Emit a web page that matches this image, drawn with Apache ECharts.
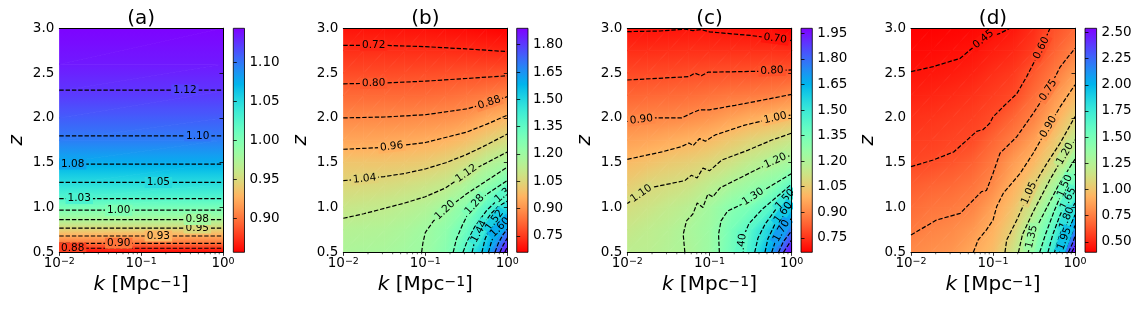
<!DOCTYPE html>
<html><head><meta charset="utf-8">
<script src="https://cdn.jsdelivr.net/npm/echarts@6/dist/echarts.min.js"></script>
<style>html,body{margin:0;padding:0;background:#fff}#c{width:1144px;height:312px}</style>
</head><body><div id="c"></div><script>
// ---------------- data (x = log10 k, y = z) ----------------
const logK = [-2, -1.75, -1.5, -1.25, -1, -0.75, -0.5, -0.25, 0];
const zRows = [0.5, 0.75, 1.0, 1.25, 1.5, 1.75, 2.0, 2.25, 2.5, 2.75, 3.0];
const xTickVals = [-2, -1, 0];
const yTickVals = [0.5, 1.0, 1.5, 2.0, 2.5, 3.0];
const minorK = [0.02,0.03,0.04,0.05,0.06,0.07,0.08,0.09,0.2,0.3,0.4,0.5,0.6,0.7,0.8,0.9];

// panel (a): depends on z only
const aZ   = [0.5, 0.55, 0.6, 0.7, 0.8, 0.9, 1.0, 1.1, 1.25, 1.5, 1.75, 2.0, 2.3, 2.6, 3.0];
const aVal = [0.860, 0.877, 0.900, 0.930, 0.958, 0.985, 1.005, 1.025, 1.046, 1.076, 1.097, 1.110, 1.125, 1.135, 1.143];
const aLevels = [['0.88',0.545],['0.90',0.60],['0.93',0.682],['0.95',0.770],['0.98',0.865],['1.00',0.97],['1.03',1.10],['1.05',1.28],['1.08',1.485],['1.10',1.80],['1.12',2.31]];
const aLabelX = {'0.88':-1.837,'0.90':-1.274,'0.93':-0.79,'0.95':-0.314,'0.98':-0.314,'1.00':-1.274,'1.03':-1.756,'1.05':-0.79,'1.08':-1.837,'1.10':-0.309,'1.12':-0.464};

// panels (b)-(d): rows = zRows, columns = logK
const bGrid = [
 [1.165,1.17,1.175,1.19,1.205,1.255,1.39,1.585,1.89],
 [1.145,1.15,1.155,1.17,1.195,1.235,1.32,1.48,1.69],
 [1.10,1.108,1.117,1.132,1.15,1.19,1.25,1.37,1.49],
 [1.05,1.056,1.063,1.075,1.09,1.112,1.165,1.23,1.31],
 [1.005,1.005,1.005,1.01,1.02,1.04,1.075,1.135,1.18],
 [0.937,0.938,0.94,0.945,0.953,0.965,0.99,1.03,1.067],
 [0.88,0.881,0.882,0.884,0.889,0.895,0.91,0.945,0.972],
 [0.828,0.828,0.828,0.828,0.829,0.835,0.845,0.857,0.876],
 [0.777,0.777,0.777,0.778,0.78,0.783,0.787,0.785,0.79],
 [0.731,0.731,0.731,0.73,0.729,0.728,0.725,0.72,0.717],
 [0.69,0.689,0.688,0.687,0.685,0.68,0.675,0.668,0.66]];
const cGrid = [
 [1.165,1.17,1.19,1.205,1.25,1.355,1.47,1.69,1.98],
 [1.14,1.16,1.18,1.21,1.245,1.34,1.43,1.59,1.79],
 [1.105,1.125,1.15,1.175,1.23,1.295,1.345,1.43,1.625],
 [1.055,1.085,1.102,1.12,1.16,1.205,1.25,1.29,1.41],
 [1.008,1.025,1.045,1.06,1.085,1.117,1.16,1.195,1.23],
 [0.95,0.96,0.975,0.99,1.008,1.04,1.072,1.098,1.135],
 [0.89,0.897,0.90,0.91,0.925,0.95,0.975,0.995,1.015],
 [0.835,0.84,0.845,0.85,0.86,0.87,0.876,0.885,0.905],
 [0.787,0.788,0.79,0.795,0.80,0.802,0.805,0.81,0.815],
 [0.74,0.74,0.742,0.745,0.745,0.745,0.745,0.745,0.74],
 [0.693,0.693,0.695,0.698,0.698,0.693,0.69,0.685,0.665]];
const dGrid = [
 [0.79,0.81,0.83,0.895,0.97,1.15,1.43,1.80,2.54],
 [0.74,0.77,0.79,0.835,0.925,1.06,1.345,1.65,2.14],
 [0.70,0.725,0.74,0.77,0.87,0.99,1.185,1.48,1.87],
 [0.655,0.675,0.69,0.72,0.79,0.92,1.06,1.29,1.59],
 [0.594,0.605,0.63,0.665,0.735,0.85,0.95,1.10,1.38],
 [0.565,0.57,0.585,0.60,0.68,0.752,0.86,1.00,1.205],
 [0.533,0.54,0.555,0.57,0.605,0.68,0.765,0.905,1.06],
 [0.49,0.50,0.515,0.535,0.565,0.598,0.70,0.82,0.95],
 [0.453,0.46,0.472,0.49,0.525,0.555,0.645,0.735,0.855],
 [0.425,0.43,0.44,0.45,0.48,0.505,0.56,0.67,0.76],
 [0.40,0.405,0.41,0.418,0.44,0.46,0.52,0.62,0.69]];

// colorbar ranges and ticks
const aRange = [0.857, 1.144], bRange = [0.66, 1.89], cRange = [0.665, 1.98], dRange = [0.40, 2.54];
const aTicks = [0.90, 0.95, 1.00, 1.05, 1.10];
const bTicks = [0.75, 0.90, 1.05, 1.20, 1.35, 1.50, 1.65, 1.80];
const cTicks = [0.75, 0.90, 1.05, 1.20, 1.35, 1.50, 1.65, 1.80, 1.95];
const dTicks = [0.50, 0.75, 1.00, 1.25, 1.50, 1.75, 2.00, 2.25, 2.50];

// contour lines [label, [[log10 k, z], ...]]
const bContours = [
 ['0.72', [[-2,2.81],[-1.5,2.81],[-1,2.795],[-0.5,2.77],[0,2.74]]],
 ['0.80', [[-2,2.38],[-1.5,2.39],[-1,2.41],[-0.5,2.44],[0,2.47]]],
 ['0.88', [[-2,2.0],[-1.5,2.01],[-1,2.035],[-0.5,2.1],[-0.25,2.16],[0,2.237]]],
 ['0.96', [[-2,1.65],[-1.5,1.67],[-1,1.725],[-0.5,1.84],[-0.25,1.93],[0,2.03]]],
 ['1.04', [[-2,1.3],[-1.75,1.32],[-1.5,1.345],[-1.25,1.38],[-1,1.43],[-0.75,1.5],[-0.5,1.59],[-0.25,1.7],[0,1.82]]],
 ['1.12', [[-2,0.88],[-1.75,0.93],[-1.5,0.99],[-1.25,1.05],[-1,1.12],[-0.75,1.22],[-0.5,1.38],[-0.25,1.5],[0,1.62]]],
 ['1.20', [[-1.045,0.5],[-1.03,0.6],[-1.0,0.72],[-0.9,0.85],[-0.76,0.97],[-0.6,1.08],[-0.5,1.15],[-0.25,1.3],[0,1.45]]],
 ['1.28', [[-0.66,0.5],[-0.62,0.65],[-0.55,0.8],[-0.45,0.98],[-0.35,1.08],[-0.2,1.18],[0,1.3]]],
 ['1.36', [[-0.54,0.5],[-0.5,0.6],[-0.4,0.78],[-0.25,0.97],[-0.1,1.1],[0,1.18]]],
 ['1.44', [[-0.43,0.5],[-0.39,0.65],[-0.3,0.8],[-0.2,0.93],[-0.1,1.02],[0,1.07]]],
 ['1.52', [[-0.31,0.5],[-0.27,0.65],[-0.2,0.8],[-0.12,0.9],[0,0.96]]],
 ['1.60', [[-0.23,0.5],[-0.19,0.63],[-0.12,0.75],[0,0.86]]],
 ['1.68', [[-0.15,0.5],[-0.11,0.6],[-0.05,0.7],[0,0.76]]],
 ['1.76', [[-0.09,0.5],[-0.05,0.58],[0,0.66]]],
 ['1.84', [[-0.03,0.5],[0,0.56]]]];
const bLabels = [['0.72',-1.63,2.81],['0.80',-1.63,2.385],['0.88',-0.22,2.17],['0.96',-1.41,1.68],['1.04',-1.74,1.32],['1.12',-0.5,1.38],['1.20',-0.76,0.97],['1.28',-0.42,1.05],['1.36',-0.03,1.16],['1.44',-0.36,0.74],['1.52',-0.16,0.86],['1.60',-0.1,0.79]];

const cContours = [
 ['0.70', [[-2,2.963],[-1.6,2.97],[-1.3,2.99],[-1.2,2.975],[-1.1,2.985],[-1.0,2.96],[-0.5,2.92],[0,2.862]]],
 ['0.80', [[-2,2.423],[-1.42,2.452],[-1.25,2.46],[-1.18,2.5],[-1.1,2.47],[-1.02,2.51],[-0.41,2.52],[0,2.535]]],
 ['0.90', [[-2,1.96],[-1.67,2.0],[-1.34,2.0],[-1.2,2.06],[-1.12,2.09],[-1.0,2.09],[-0.69,2.14],[-0.29,2.21],[0,2.263]]],
 ['1.00', [[-2,1.538],[-1.58,1.62],[-1.34,1.68],[-1.25,1.72],[-1.2,1.69],[-1.12,1.77],[-1.05,1.74],[-0.93,1.81],[-0.57,1.92],[-0.2,2.0],[0,2.033]]],
 ['1.10', [[-2,1.044],[-1.83,1.155],[-1.67,1.23],[-1.3,1.3],[-1.22,1.36],[-1.15,1.33],[-1.08,1.44],[-1.0,1.41],[-0.85,1.53],[-0.53,1.64],[-0.25,1.75],[0,1.83]]],
 ['1.20', [[-1.3,0.5],[-1.32,0.7],[-1.28,0.85],[-1.2,0.93],[-1.15,1.05],[-1.08,1.0],[-1.02,1.15],[-0.96,1.12],[-0.87,1.22],[-0.63,1.33],[-0.39,1.44],[-0.2,1.52],[0,1.586]]],
 ['1.30', [[-0.88,0.5],[-0.89,0.7],[-0.86,0.85],[-0.78,0.96],[-0.62,1.03],[-0.47,1.12],[-0.2,1.27],[0,1.38]]],
 ['1.40', [[-0.62,0.5],[-0.6,0.65],[-0.52,0.82],[-0.36,0.98],[-0.18,1.12],[0,1.26]]],
 ['1.50', [[-0.45,0.5],[-0.41,0.66],[-0.32,0.82],[-0.2,0.97],[-0.08,1.09],[0,1.16]]],
 ['1.60', [[-0.325,0.5],[-0.29,0.65],[-0.2,0.82],[-0.08,0.97],[0,1.04]]],
 ['1.70', [[-0.243,0.5],[-0.2,0.62],[-0.1,0.78],[0,0.88]]],
 ['1.80', [[-0.16,0.5],[-0.1,0.62],[0,0.74]]],
 ['1.90', [[-0.1,0.5],[-0.05,0.57],[0,0.64]]]];
const cLabels = [['0.70',-0.2,2.89],['0.80',-0.24,2.53],['0.90',-1.83,1.99],['1.00',-0.2,2.0],['1.10',-1.83,1.155],['1.20',-0.2,1.52],['1.30',-0.47,1.12],['1.40',-0.61,0.58],['1.50',-0.08,1.09],['1.60',-0.1,0.94],['1.70',-0.13,0.74]];

const dContours = [
 ['0.45', [[-2,2.516],[-1.73,2.572],[-1.4,2.665],[-1.28,2.758],[-1.118,2.877],[-0.915,2.944],[-0.793,3.0]]],
 ['0.60', [[-2,1.456],[-1.73,1.53],[-1.48,1.62],[-1.32,1.75],[-1.2,1.85],[-1.12,1.87],[-1.04,1.94],[-1.0,2.01],[-0.87,2.13],[-0.71,2.27],[-0.59,2.46],[-0.41,2.78],[-0.305,3.0]]],
 ['0.75', [[-2,0.693],[-1.69,0.86],[-1.4,0.935],[-1.24,1.084],[-1.14,1.177],[-1.08,1.19],[-1.0,1.38],[-0.915,1.605],[-0.71,1.79],[-0.51,2.05],[-0.325,2.31],[-0.18,2.57],[0,2.777]]],
 ['0.90', [[-1.24,0.5],[-1.18,0.64],[-1.08,0.75],[-1.0,0.86],[-0.955,1.01],[-0.874,1.16],[-0.67,1.38],[-0.51,1.605],[-0.325,1.9],[-0.18,2.125],[0,2.37]]],
 ['1.05', [[-0.854,0.5],[-0.833,0.638],[-0.71,0.86],[-0.56,1.16],[-0.345,1.49],[-0.183,1.716],[0,2.014]]],
 ['1.20', [[-0.69,0.5],[-0.64,0.7],[-0.5,0.97],[-0.3,1.32],[-0.12,1.6],[0,1.754]]],
 ['1.35', [[-0.57,0.5],[-0.528,0.674],[-0.4,0.9],[-0.2,1.25],[0,1.54]]],
 ['1.50', [[-0.43,0.5],[-0.36,0.7],[-0.25,0.97],[-0.122,1.24],[0,1.37]]],
 ['1.65', [[-0.33,0.5],[-0.27,0.7],[-0.18,0.92],[-0.082,1.1],[0,1.2]]],
 ['1.80', [[-0.25,0.5],[-0.19,0.68],[-0.1,0.88],[0,1.05]]],
 ['1.95', [[-0.19,0.5],[-0.13,0.65],[-0.06,0.79],[0,0.92]]],
 ['2.10', [[-0.13,0.5],[-0.07,0.64],[0,0.8]]],
 ['2.25', [[-0.08,0.5],[-0.03,0.6],[0,0.68]]],
 ['2.40', [[-0.04,0.5],[0,0.57]]]];
const dLabels = [['0.45',-1.118,2.877],['0.60',-0.41,2.78],['0.75',-0.325,2.31],['0.90',-0.325,1.9],['1.05',-0.56,1.16],['1.20',-0.12,1.6],['1.35',-0.528,0.674],['1.50',-0.122,1.24],['1.65',-0.082,1.1],['1.80',-0.1,0.88],['1.95',-0.13,0.65]];

// ---------------- derived tables ----------------
const aContours = aLevels.map(l => [l[0], [[-2, l[1]], [0, l[1]]]]);
const aLabels = aLevels.map(l => [l[0], aLabelX[l[0]], l[1]]);
const aGridVals = aVal.map(v => [v, v]);

// ---------------- helpers ----------------
const FONT = 'DejaVu Sans';
function cmap(v, r) { // matplotlib rainbow_r
  let t = (v - r[0]) / (r[1] - r[0]); t = Math.max(0, Math.min(1, t));
  const x = 1 - t;
  const R = Math.min(1, Math.abs(2 * x - 0.5)), G = Math.sin(Math.PI * x), B = Math.cos(Math.PI * x / 2);
  return 'rgb(' + Math.round(R * 255) + ',' + Math.round(Math.max(0, G) * 255) + ',' + Math.round(Math.max(0, B) * 255) + ')';
}
function cells(xs, zs, G) {
  const out = [];
  for (let j = 0; j < zs.length - 1; j++) for (let i = 0; i < xs.length - 1; i++)
    out.push([xs[i], zs[j], xs[i + 1], zs[j + 1], G[j][i], G[j][i + 1], G[j + 1][i], G[j + 1][i + 1]]);
  return out;
}
function tri(P1, P2, P3, f1, f2, f3, r) {
  const e1x = P2[0] - P1[0], e1y = P2[1] - P1[1], e2x = P3[0] - P1[0], e2y = P3[1] - P1[1];
  const d1 = f2 - f1, d2 = f3 - f1, det = e1x * e2y - e1y * e2x;
  const fmin = Math.min(f1, f2, f3), fmax = Math.max(f1, f2, f3);
  let fill;
  if (Math.abs(det) < 1e-9 || fmax - fmin < 1e-9) fill = cmap(f1, r);
  else {
    const gx = (d1 * e2y - d2 * e1y) / det, gy = (e1x * d2 - e2x * d1) / det, g2 = gx * gx + gy * gy;
    const a = (fmin - f1) / g2, b = (fmax - f1) / g2, stops = [];
    for (let s = 0; s <= 6; s++) { const o = s / 6; stops.push({ offset: o, color: cmap(fmin + o * (fmax - fmin), r) }); }
    fill = { type: 'linear', x: P1[0] + gx * a, y: P1[1] + gy * a, x2: P1[0] + gx * b, y2: P1[1] + gy * b, colorStops: stops, global: true };
  }
  return { type: 'polygon', shape: { points: [P1, P2, P3] }, style: { fill: fill, stroke: fill, lineWidth: 0.8 } };
}
function fieldRender(r) {
  return function (params, api) {
    const x0 = api.value(0), z0 = api.value(1), x1 = api.value(2), z1 = api.value(3);
    const v00 = api.value(4), v10 = api.value(5), v01 = api.value(6), v11 = api.value(7);
    const p00 = api.coord([x0, z0]), p10 = api.coord([x1, z0]), p01 = api.coord([x0, z1]), p11 = api.coord([x1, z1]);
    return { type: 'group', children: [tri(p00, p10, p11, v00, v10, v11, r), tri(p00, p11, p01, v00, v11, v01, r)] };
  };
}
function labelRender(labels, contours, r) {
  return function (params, api) {
    const L = labels[params.dataIndex];
    const pts = contours.find(c => c[0] === L[0])[1].map(p => api.coord(p));
    const P = api.coord([L[1], L[2]]);
    let best = null;
    for (let s = 0; s < pts.length - 1; s++) {
      const A = pts[s], B = pts[s + 1], dx = B[0] - A[0], dy = B[1] - A[1], l2 = dx * dx + dy * dy;
      let t = l2 ? ((P[0] - A[0]) * dx + (P[1] - A[1]) * dy) / l2 : 0; t = Math.max(0, Math.min(1, t));
      const Q = [A[0] + t * dx, A[1] + t * dy], d = (Q[0] - P[0]) ** 2 + (Q[1] - P[1]) ** 2;
      if (!best || d < best.d) best = { d: d, Q: Q, dx: dx, dy: dy };
    }
    let ang = Math.atan2(-best.dy, best.dx);
    if (ang > Math.PI / 2) ang -= Math.PI; if (ang < -Math.PI / 2) ang += Math.PI;
    return { type: 'text', x: best.Q[0], y: best.Q[1], rotation: ang,
      style: { text: L[0], fill: '#000', fontSize: 10.5, fontFamily: FONT, align: 'center', verticalAlign: 'middle',
        backgroundColor: cmap(parseFloat(L[0]), r), padding: [0, 2], lineHeight: 11 } };
  };
}
function cbarRender(r) {
  return function (params, api) {
    const p0 = api.coord([0, api.value(0)]), p1 = api.coord([1, api.value(1)]);
    const stops = [];
    for (let s = 0; s <= 48; s++) { const o = s / 48; stops.push({ offset: o, color: cmap(r[0] + o * (r[1] - r[0]), r) }); }
    const x = p0[0], y = p1[1], w = p1[0] - p0[0], h = p0[1] - p1[1];
    return { type: 'group', children: [
      { type: 'rect', shape: { x: x, y: y, width: w, height: h }, style: { fill: { type: 'linear', x: 0, y: 1, x2: 0, y2: 0, colorStops: stops } } },
      { type: 'rect', shape: { x: x, y: y, width: w, height: h }, style: { fill: 'none', stroke: '#000', lineWidth: 0.8 } }] };
  };
}
function minorRender(params, api) {
  const p = api.coord([api.value(0), 0.5]);
  return { type: 'line', shape: { x1: p[0], y1: p[1], x2: p[0], y2: p[1] + 2 }, style: { stroke: '#000', lineWidth: 0.6 } };
}

// ---------------- layout ----------------
const layout = [
  { title: '(a)', g: [59.3, 28.3, 163.7, 224], cb: [233.3, 28.3, 11.2, 224] },
  { title: '(b)', g: [343.3, 28.3, 164, 224], cb: [516.7, 28.3, 11.3, 224] },
  { title: '(c)', g: [627.3, 28.3, 164.4, 224], cb: [801, 28.3, 11.3, 224] },
  { title: '(d)', g: [911, 28.3, 164, 224], cb: [1085, 28.3, 11.6, 224] }];
const panelData = [
  { xs: [-2, 0], zs: aZ, G: aGridVals, range: aRange, ticks: aTicks, contours: aContours, labels: aLabels },
  { xs: logK, zs: zRows, G: bGrid, range: bRange, ticks: bTicks, contours: bContours, labels: bLabels },
  { xs: logK, zs: zRows, G: cGrid, range: cRange, ticks: cTicks, contours: cContours, labels: cLabels },
  { xs: logK, zs: zRows, G: dGrid, range: dRange, ticks: dTicks, contours: dContours, labels: dLabels }];

const grids = [], xAxes = [], yAxes = [], series = [], graphics = [];
const lineCol = '#000';
layout.forEach((L, p) => {
  const D = panelData[p];
  grids.push({ left: L.g[0], top: L.g[1], width: L.g[2], height: L.g[3], containLabel: false });
  grids.push({ left: L.cb[0], top: L.cb[1], width: L.cb[2], height: L.cb[3], containLabel: false });
  const gi = 2 * p, ci = 2 * p + 1, xi = 3 * p, yi = 3 * p;
  xAxes.push({ type: 'value', gridIndex: gi, min: -2, max: 0, interval: 1, z: 10,
    axisLine: { show: true, lineStyle: { color: lineCol, width: 1 } },
    axisTick: { show: true, inside: false, length: 3.5, lineStyle: { color: lineCol, width: 0.8 } },
    axisLabel: { margin: 4, formatter: v => '{b|10}{s|' + (v === 0 ? '0' : '\u2212' + Math.abs(v)) + '}',
      rich: { b: { fontSize: 13.5, fontFamily: FONT, color: '#000' }, s: { fontSize: 9.5, fontFamily: FONT, color: '#000', verticalAlign: 'top' } } },
    splitLine: { show: false },
    name: '{i|k} [Mpc{s|\u22121}]', nameLocation: 'middle', nameGap: 22,
    nameTextStyle: { fontSize: 20, fontFamily: FONT, color: '#000',
      rich: { i: { fontSize: 20, fontFamily: FONT, fontStyle: 'italic', color: '#000' }, s: { fontSize: 14, fontFamily: FONT, color: '#000', verticalAlign: 'top' } } } });
  xAxes.push({ type: 'value', gridIndex: gi, position: 'top', min: -2, max: 0, z: 10,
    axisLine: { show: true, lineStyle: { color: lineCol, width: 1 } }, axisTick: { show: false }, axisLabel: { show: false }, splitLine: { show: false } });
  xAxes.push({ type: 'value', gridIndex: ci, min: 0, max: 1, show: false });
  yAxes.push({ type: 'value', gridIndex: gi, min: 0.5, max: 3, interval: 0.5, z: 10,
    axisLine: { show: true, lineStyle: { color: lineCol, width: 1 } },
    axisTick: { show: true, inside: false, length: 3.5, lineStyle: { color: lineCol, width: 0.8 } },
    axisLabel: { margin: 5, formatter: v => v.toFixed(1), fontSize: 13.5, fontFamily: FONT, color: '#000' },
    splitLine: { show: false },
    name: 'z', nameLocation: 'middle', nameGap: 33, nameRotate: 90,
    nameTextStyle: { fontSize: 20, fontStyle: 'italic', fontFamily: FONT, color: '#000' } });
  yAxes.push({ type: 'value', gridIndex: gi, position: 'right', min: 0.5, max: 3, z: 10,
    axisLine: { show: true, lineStyle: { color: lineCol, width: 1 } }, axisTick: { show: false }, axisLabel: { show: false }, splitLine: { show: false } });
  yAxes.push({ type: 'value', gridIndex: ci, position: 'right', min: D.range[0], max: D.range[1], z: 10,
    axisLine: { show: false },
    axisTick: { show: true, inside: false, length: 3.5, customValues: D.ticks, lineStyle: { color: lineCol, width: 0.8 } },
    axisLabel: { margin: 5, customValues: D.ticks, formatter: v => v.toFixed(2), fontSize: 13.5, fontFamily: FONT, color: '#000' },
    splitLine: { show: false } });

  series.push({ type: 'custom', xAxisIndex: xi, yAxisIndex: yi, coordinateSystem: 'cartesian2d', clip: true, silent: true, z: 1,
    renderItem: fieldRender(D.range), data: cells(D.xs, D.zs, D.G) });
  D.contours.forEach(c => series.push({ type: 'line', xAxisIndex: xi, yAxisIndex: yi, data: c[1], symbol: 'none', showSymbol: false,
    clip: true, silent: true, z: 3, lineStyle: { color: '#000', width: 1.2, type: [4.4, 1.9] } }));
  series.push({ type: 'custom', xAxisIndex: xi, yAxisIndex: yi, coordinateSystem: 'cartesian2d', clip: true, silent: true, z: 4,
    renderItem: labelRender(D.labels, D.contours, D.range), data: D.labels.map(l => [l[1], l[2]]) });
  series.push({ type: 'custom', xAxisIndex: xi, yAxisIndex: yi, coordinateSystem: 'cartesian2d', clip: false, silent: true, z: 10,
    renderItem: minorRender, data: minorK.map(k => [Math.log10(k)]) });
  series.push({ type: 'custom', xAxisIndex: xi + 2, yAxisIndex: yi + 2, coordinateSystem: 'cartesian2d', silent: true, z: 2,
    renderItem: cbarRender(D.range), data: [[D.range[0], D.range[1]]] });
  graphics.push({ type: 'text', x: L.g[0] + L.g[2] / 2, y: 18.5,
    style: { text: L.title, fontSize: 20, fontFamily: FONT, fill: '#000', align: 'center', verticalAlign: 'middle' } });
});

const chart = echarts.init(document.getElementById('c'), null, { renderer: 'canvas' });
chart.setOption({ animation: false, backgroundColor: '#fff', grid: grids, xAxis: xAxes, yAxis: yAxes, series: series, graphic: graphics });
</script></body></html>
